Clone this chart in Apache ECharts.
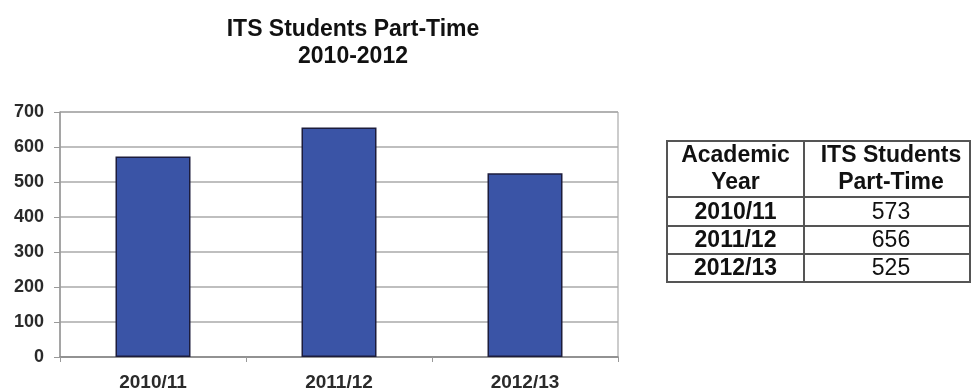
<!DOCTYPE html>
<html>
<head>
<meta charset="utf-8">
<script src="https://cdn.jsdelivr.net/npm/echarts@6/dist/echarts.min.js"></script>
<style>
html,body{margin:0;padding:0;background:#fff;}
#c{width:971px;height:392px;}
</style>
</head>
<body>
<div id="c"></div>
<script>
var titleLines = ['ITS Students Part-Time', '2010-2012'];
var categories = ['2010/11', '2011/12', '2012/13'];
var values = [573, 656, 525];
var yTicks = [0, 100, 200, 300, 400, 500, 600, 700];
var tableHeader = [['Academic', 'Year'], ['ITS Students', 'Part-Time']];

var FONT = '"Liberation Sans", Arial, Helvetica, sans-serif';

// table layout
var tL = 667, tR = 970, tDiv = 804, tTop = 141;
var rowLines = [197, 226, 254, 282];
var col1 = (tL + tDiv) / 2, col2 = 891;
var g = [];
g.push({type:'rect', shape:{x:tL, y:tTop, width:tR - tL, height:rowLines[3] - tTop},
  style:{fill:'#fff', stroke:'#555', lineWidth:2}, z:1});
g.push({type:'line', shape:{x1:tDiv, y1:tTop, x2:tDiv, y2:rowLines[3]}, style:{stroke:'#555', lineWidth:2}, z:2});
for (var i = 0; i < 3; i++) {
  g.push({type:'line', shape:{x1:tL, y1:rowLines[i], x2:tR, y2:rowLines[i]}, style:{stroke:'#555', lineWidth:2}, z:2});
}
var headY = [156, 183];
tableHeader.forEach(function (lines, ci) {
  lines.forEach(function (t, li) {
    g.push({type:'text', x: ci === 0 ? col1 : col2, y: headY[li], z:3,
      style:{text:t, font:'bold 23px ' + FONT, fill:'#111', textAlign:'center', textVerticalAlign:'middle'}});
  });
});
categories.forEach(function (c, i) {
  var cy = (rowLines[i] + rowLines[i + 1]) / 2 + 1;
  g.push({type:'text', x: col1, y: cy, z:3,
    style:{text:c, font:'bold 23px ' + FONT, fill:'#111', textAlign:'center', textVerticalAlign:'middle'}});
  g.push({type:'text', x: col2, y: cy, z:3,
    style:{text:String(values[i]), font:'23px ' + FONT, fill:'#111', textAlign:'center', textVerticalAlign:'middle'}});
});

var chart = echarts.init(document.getElementById('c'), null, {renderer:'canvas'});
chart.setOption({
  animation:false,
  backgroundColor:'#fff',
  title:{
    text: titleLines.join('\n'),
    left: 348, top: 11, textAlign:'center',
    textStyle:{fontFamily:FONT, fontWeight:'bold', fontSize:23, lineHeight:27, color:'#111'}
  },
  grid:{left:60, right:353, top:112, bottom:34, show:true, borderColor:'#999', borderWidth:1, containLabel:false},
  xAxis:{
    type:'category', data:categories, boundaryGap:true,
    axisLine:{lineStyle:{color:'#888', width:1.5}},
    axisTick:{show:true, length:5, alignWithLabel:false, lineStyle:{color:'#999'}},
    axisLabel:{fontFamily:FONT, fontSize:19, fontWeight:'bold', color:'#2a2a2a', margin:16}
  },
  yAxis:{
    type:'value', min:0, max:700, interval:100,
    axisLine:{show:true, lineStyle:{color:'#999', width:1.5}},
    axisTick:{show:true, length:6, lineStyle:{color:'#999'}},
    axisLabel:{fontFamily:FONT, fontSize:18, fontWeight:'bold', color:'#2a2a2a', margin:16,
      formatter:function (v) { return yTicks.indexOf(v) >= 0 ? String(v) : ''; }},
    splitLine:{show:true, lineStyle:{color:'#aaa', width:1.5}}
  },
  series:[{
    type:'bar', data:values, barWidth:75,
    itemStyle:{color:'#3a54a6', borderColor:'#1c1c3c', borderWidth:1.5}
  }],
  graphic:g
});
</script>
</body>
</html>
